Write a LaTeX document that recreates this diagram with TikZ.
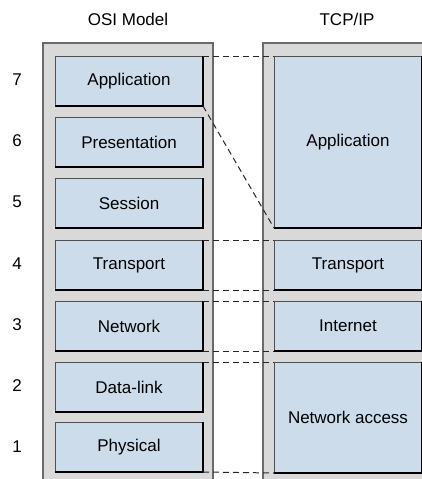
\documentclass[tikz,border=0pt]{standalone}
\usepackage{fontspec}
\setmainfont{Liberation Sans}
\definecolor{panelfill}{HTML}{D9D9D9}
\definecolor{paneledge}{HTML}{6A6A6A}
\definecolor{boxfill}{HTML}{CCDCEB}
\definecolor{boxedge}{HTML}{505050}
\begin{document}
\begin{tikzpicture}[x=1pt,y=-1pt,
  every node/.style={font=\fontsize{17}{20}\selectfont},
  panel/.style={fill=panelfill,draw=paneledge,line width=1.4pt},
  layer/.style={fill=boxfill,draw=boxedge,line width=1pt,minimum width=147pt,inner sep=0pt,anchor=north west},
  shade/.style={draw=black,line width=1.3pt},
  link/.style={draw=black!85,line width=1pt,dash pattern=on 6pt off 4pt},
  lbl/.style={anchor=center}]
\useasboundingbox (0,0) rectangle (422,479);
\clip (0,0) rectangle (422,479);
% panels
\path[panel] (43,43) rectangle (213,495);
\path[panel] (263,43) rectangle (440,495);
% headers
\node[lbl] (hosi) at (128,19) {OSI Model};
\node[lbl] (htcp) at (347,19) {TCP/IP};
% left layers
\node[layer,minimum height=49pt] (Lapp) at (55,56) {Application};
\node[layer,minimum height=49pt] (Lpres) at (55,117) {Presentation};
\node[layer,minimum height=49pt] (Lsess) at (55,178) {Session};
\node[layer,minimum height=49pt] (Ltrans) at (55,240) {Transport};
\node[layer,minimum height=49pt] (Lnet) at (55,301) {Network};
\node[layer,minimum height=49pt] (Ldl) at (55,362) {Data-link};
\node[layer,minimum height=49pt] (Lphy) at (55,422) {Physical};
% right layers
\node[layer,minimum height=171pt] (Rapp) at (274,56) {Application};
\node[layer,minimum height=49pt] (Rtrans) at (274,240) {Transport};
\node[layer,minimum height=49pt] (Rint) at (274,301) {Internet};
\node[layer,minimum height=110pt] (Rna) at (274,362) {Network access};
% darker bottom/right edges
\foreach \n in {Lapp,Lpres,Lsess,Ltrans,Lnet,Ldl,Lphy,Rapp,Rtrans,Rint,Rna}
  \draw[shade] (\n.south west) -- (\n.south east) -- (\n.north east);
% numbers
\node[lbl] (n7) at (17,80) {7};
\node[lbl] (n6) at (17,141) {6};
\node[lbl] (n5) at (17,202) {5};
\node[lbl] (n4) at (17,264) {4};
\node[lbl] (n3) at (17,325) {3};
\node[lbl] (n2) at (17,386) {2};
\node[lbl] (n1) at (17,447) {1};
% mapping lines
\draw[link] (Lapp.north east) -- (Rapp.north west);
\draw[link] (Lapp.south east) -- (Rapp.south west);
\draw[link] (Ltrans.north east) -- (Rtrans.north west);
\draw[link] (Ltrans.south east) -- (Rtrans.south west);
\draw[link] (Lnet.north east) -- (Rint.north west);
\draw[link] (Lnet.south east) -- (Rint.south west);
\draw[link] (Ldl.north east) -- (Rna.north west);
\draw[link] (Lphy.south east) -- (Rna.south west);
\end{tikzpicture}
\end{document}
